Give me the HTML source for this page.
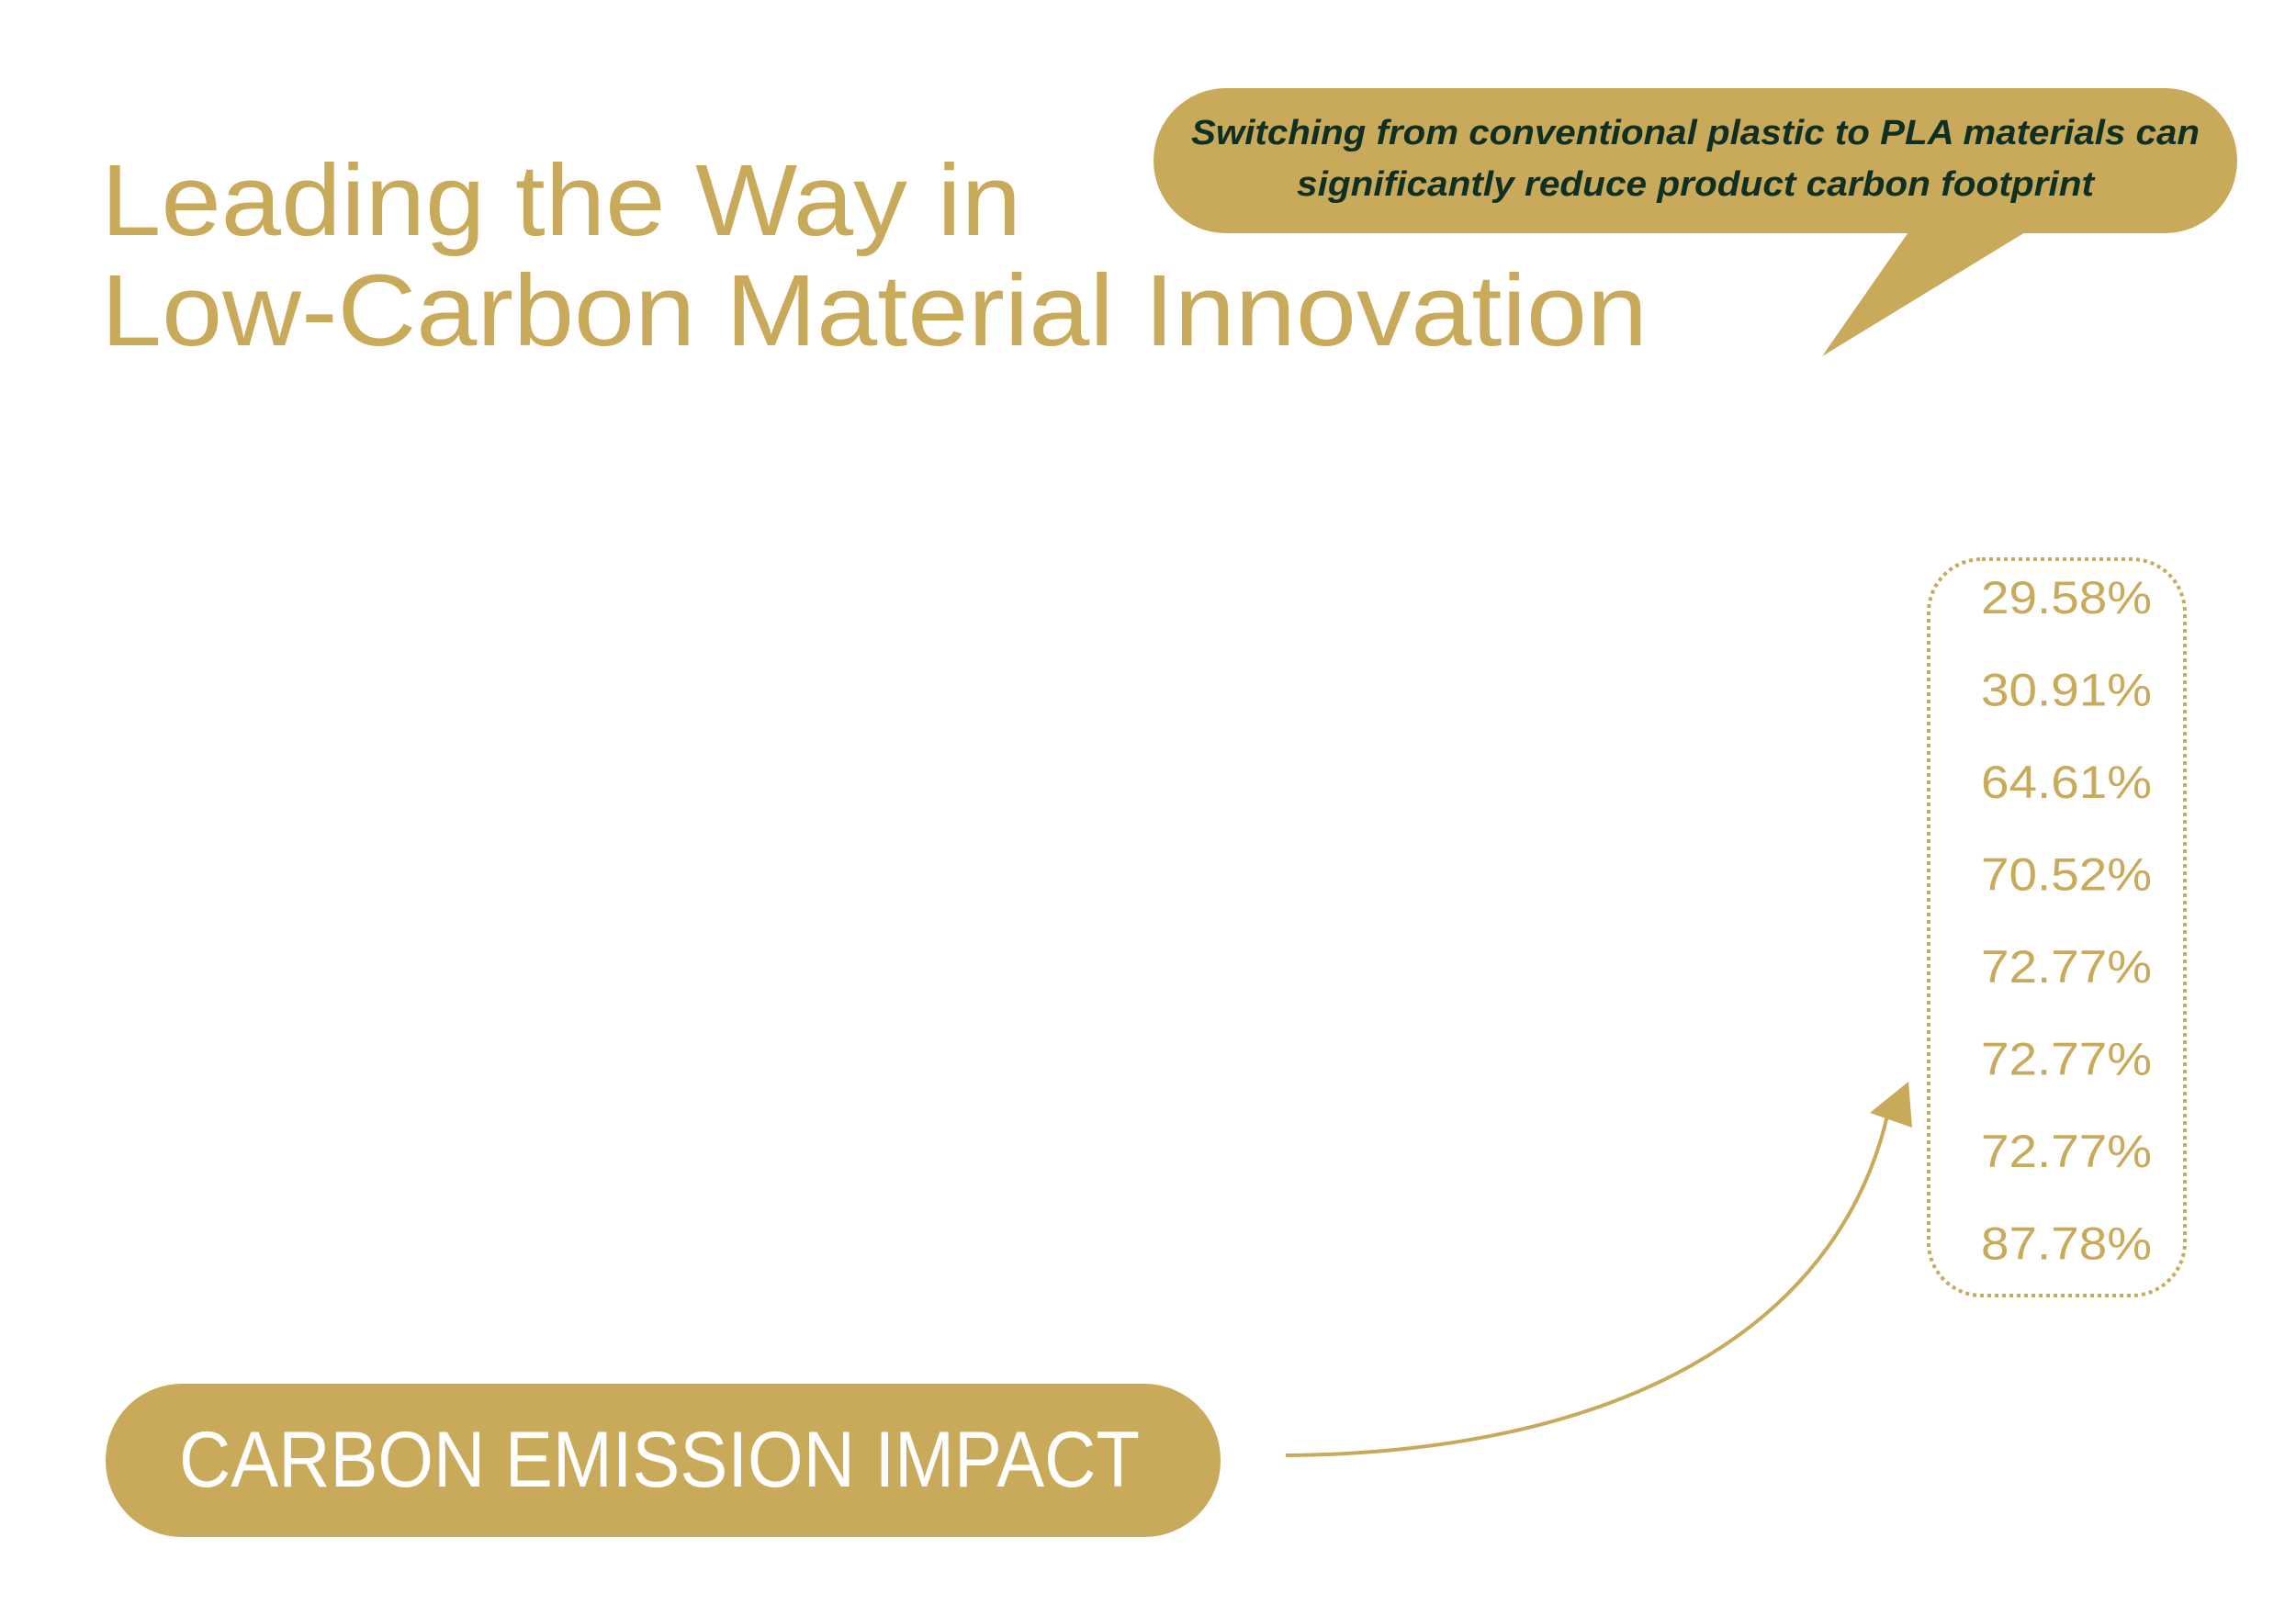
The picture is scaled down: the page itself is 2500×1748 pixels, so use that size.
<!DOCTYPE html>
<html><head><meta charset="utf-8"><style>
html,body{margin:0;padding:0;background:#fff;}
svg{display:block;}
text{font-family:"Liberation Sans",sans-serif;}
</style></head><body>
<svg id="chart" width="2500" height="1748" viewBox="0 0 2500 1748">
  <g fill="#c8aa5a">
    <text x="110" y="256" font-size="110" textLength="1002" lengthAdjust="spacingAndGlyphs">Leading the Way in</text>
    <text x="110" y="376" font-size="110" textLength="1684" lengthAdjust="spacingAndGlyphs">Low-Carbon Material Innovation</text>
  </g>
  <g>
    <rect x="1256" y="96" width="1180" height="158" rx="79" fill="#c8aa5a"/>
    <polygon points="2080,250 1984,388 2210,250" fill="#c8aa5a"/>
    <text x="1846" y="157" text-anchor="middle" font-size="38" font-weight="bold" font-style="italic" fill="#0f2f22" textLength="1098" lengthAdjust="spacingAndGlyphs">Switching from conventional plastic to PLA materials can</text>
    <text x="1846" y="213" text-anchor="middle" font-size="38" font-weight="bold" font-style="italic" fill="#0f2f22" textLength="868" lengthAdjust="spacingAndGlyphs">significantly reduce product carbon footprint</text>
  </g>
  <rect x="2100" y="609" width="279" height="802" rx="58" fill="none" stroke="#c8aa5a" stroke-width="4" stroke-dasharray="4 4"/>
  <g id="values"></g>
  <g>
    <path d="M1400 1585 C1760 1582 2000 1450 2055 1215" fill="none" stroke="#c8aa5a" stroke-width="4"/>
    <polygon points="2078,1178 2036,1212 2082,1228" fill="#c8aa5a"/>
  </g>
  <g>
    <rect x="115" y="1507" width="1214" height="167" rx="83" fill="#c8aa5a"/>
    <text x="195" y="1619" font-size="86" fill="#ffffff" textLength="1046" lengthAdjust="spacingAndGlyphs">CARBON EMISSION IMPACT</text>
  </g>
</svg>
<script>
const values = [29.58, 30.91, 64.61, 70.52, 72.77, 72.77, 72.77, 87.78];
const valueLabels = ["29.58%", "30.91%", "64.61%", "70.52%", "72.77%", "72.77%", "72.77%", "87.78%"];
const g = document.getElementById('values');
const top0 = 668, step = 100.5;
values.forEach(function(v, i){
  const t = document.createElementNS('http://www.w3.org/2000/svg','text');
  t.setAttribute('x', 2250);
  t.setAttribute('y', top0 + i*step);
  t.setAttribute('text-anchor','middle');
  t.setAttribute('font-size','50');
  t.setAttribute('fill','#c8aa5a');
  t.setAttribute('textLength','186');
  t.setAttribute('lengthAdjust','spacingAndGlyphs');
  
  
  t.textContent = valueLabels[i] || (v.toFixed(2) + '%');
  g.appendChild(t);
});
</script>
</body></html>
